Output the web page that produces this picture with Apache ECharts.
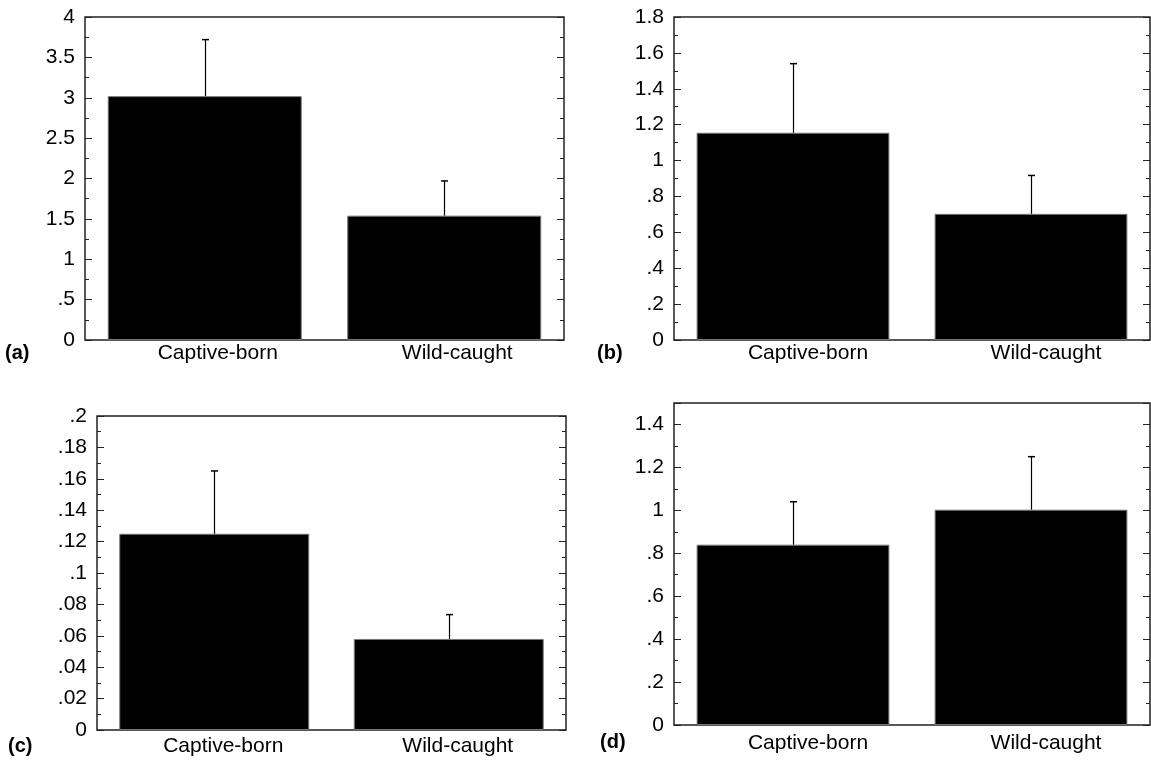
<!DOCTYPE html>
<html>
<head>
<meta charset="utf-8">
<script src="https://cdn.jsdelivr.net/npm/echarts@6/dist/echarts.min.js"></script>
<style>
html,body{margin:0;padding:0;background:#fff;}
#chart{width:1151px;height:767px;}
</style>
</head>
<body>
<div id="chart"></div>
<script>
// ---- Data ----
const categories = ['Captive-born', 'Wild-caught'];
const panelLabels = ['(a)', '(b)', '(c)', '(d)'];

const meanA = [3.02, 1.54];
const errTopA = [3.72, 1.97];
const meanB = [1.155, 0.703];
const errTopB = [1.54, 0.917];
const meanC = [0.125, 0.058];
const errTopC = [0.165, 0.0735];
const meanD = [0.84, 1.003];
const errTopD = [1.04, 1.25];

const yMax = [4, 1.8, 0.2, 1.5];
const yInterval = [0.5, 0.2, 0.02, 0.2];

const means = [meanA, meanB, meanC, meanD];
const errTops = [errTopA, errTopB, errTopC, errTopD];

// ---- Layout ----
const grids = [
  {left: 85, top: 17, right: 587, bottom: 427},
  {left: 674, top: 17, right: 1, bottom: 427},
  {left: 97, top: 416, right: 585, bottom: 37},
  {left: 674, top: 403, right: 1, bottom: 42}
];
const catMargin = [3, 3, 6, 8];
const catShift = [13, 15, 9, 15];
const letterPos = [
  {left: 5, top: 343},
  {left: 597, top: 343},
  {left: 8, top: 736},
  {left: 600, top: 732}
];

const FONT = '"Liberation Sans", Arial, Helvetica, sans-serif';
const FS = 21;

function fmt(v) {
  if (Math.abs(v) < 1e-9) return '0';
  let s = String(+v.toFixed(4));
  return s.replace(/^0\./, '.');
}

const option = {
  animation: false,
  backgroundColor: '#fff',
  title: panelLabels.map((t, i) => ({
    text: t, left: letterPos[i].left, top: letterPos[i].top, padding: 0,
    textStyle: {fontFamily: FONT, fontSize: 20, fontWeight: 'bold', color: '#000'}
  })),
  grid: grids.map(g => Object.assign({show: true, borderColor: '#222', borderWidth: 1.5, backgroundColor: 'transparent'}, g)),
  xAxis: grids.map((g, i) => ({
    type: 'category', gridIndex: i, data: categories,
    axisLine: {show: false}, axisTick: {show: false},
    axisLabel: {fontFamily: FONT, fontSize: FS, color: '#000', margin: catMargin[i],
      padding: [0, 0, 0, 2 * catShift[i]]}
  })),
  yAxis: [],
  series: []
};

for (let i = 0; i < 4; i++) {
  const common = {
    type: 'value', gridIndex: i, min: 0, max: yMax[i], interval: yInterval[i],
    splitLine: {show: false}, axisLine: {show: false},
    axisTick: {show: true, inside: true, length: 7, lineStyle: {color: '#222', width: 1}},
    minorTick: {show: true, splitNumber: 2, length: 4, lineStyle: {color: '#222', width: 1}},
    minorSplitLine: {show: false}
  };
  option.yAxis.push(Object.assign({}, common, {
    position: 'left',
    axisLabel: {fontFamily: FONT, fontSize: FS, color: '#000', margin: 10, formatter: fmt, showMaxLabel: i !== 3}
  }));
  option.yAxis.push(Object.assign({}, common, {
    position: 'right',
    axisLabel: {show: false}
  }));
}

for (let i = 0; i < 4; i++) {
  option.series.push({
    type: 'bar', xAxisIndex: i, yAxisIndex: 2 * i,
    data: means[i], barCategoryGap: '19%',
    itemStyle: {color: '#000', borderColor: '#777', borderWidth: 1},
    silent: true
  });
  option.series.push({
    type: 'custom', xAxisIndex: i, yAxisIndex: 2 * i,
    data: means[i].map((m, k) => [k, m, errTops[i][k]]),
    renderItem: function (params, api) {
      const base = api.coord([api.value(0), api.value(1)]);
      const top = api.coord([api.value(0), api.value(2)]);
      const x = Math.round(base[0]) + 0.5;
      const cap = 3.5;
      return {
        type: 'group',
        children: [
          {type: 'line', shape: {x1: x, y1: base[1], x2: x, y2: top[1]}, style: {stroke: '#000', lineWidth: 1.2}},
          {type: 'line', shape: {x1: x - cap, y1: top[1], x2: x + cap, y2: top[1]}, style: {stroke: '#000', lineWidth: 1.5}}
        ]
      };
    },
    z: 5, silent: true
  });
}

const chart = echarts.init(document.getElementById('chart'), null, {renderer: 'canvas'});
chart.setOption(option);
</script>
</body>
</html>
